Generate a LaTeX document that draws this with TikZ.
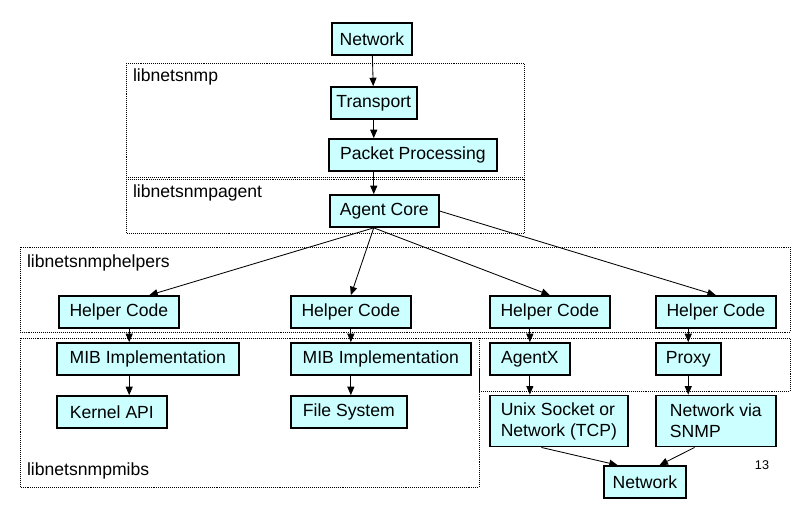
\documentclass[tikz,border=0pt]{standalone}
\usepackage{fontspec}
\setmainfont{Liberation Sans}
\usetikzlibrary{arrows.meta,calc}
\definecolor{boxfill}{HTML}{CCFFFF}
\tikzset{
  blk/.style={draw, very thick, fill=boxfill, anchor=west, minimum height=0.8cm, inner xsep=4pt, font=\fontsize{12.5}{15}\selectfont, align=left},
  grp/.style={draw, densely dotted, thin},
  lbl/.style={anchor=north west, font=\fontsize{12.5}{15}\selectfont, inner sep=2pt},
  conn/.style={-{Triangle[length=6pt,width=5pt]}, semithick}
}
\begin{document}
\begin{tikzpicture}[x=0.025cm, y=-0.025cm]
  \useasboundingbox (0,0) rectangle (805,532);
  % library regions
  \draw[grp] (126,63) rectangle (524,177);
  \node[lbl] (libnet) at (130,66) {libnetsnmp};
  \draw[grp] (126,179) rectangle (524,233);
  \node[lbl] (libagent) at (130,182) {libnetsnmpagent};
  \draw[grp] (20,247) rectangle (790,332);
  \node[lbl] (libhelp) at (24,252) {libnetsnmphelpers};
  \draw[grp] (20,338) rectangle (479,487);
  \node[lbl,anchor=south west] (libmibs) at (24,482) {libnetsnmpmibs};
  \draw[grp] (479,338) rectangle (790,391);

  % blocks
  \node[blk, minimum width=2cm] (net) at (331,39) {Network};
  \node[blk, minimum width=2cm] (trans) at (330,103) {Transport};
  \node[blk, minimum width=4.2cm] (pkt) at (328,155) {Packet Processing};
  \node[blk, minimum width=2.72cm] (core) at (329,211) {Agent Core};
  \node[blk, minimum width=3cm] (help1) at (58,312) {Helper Code};
  \node[blk, minimum width=3cm] (help2) at (290,312) {Helper Code};
  \node[blk, minimum width=3cm] (help3) at (489,312) {Helper Code};
  \node[blk, minimum width=3cm] (help4) at (655,312) {Helper Code};
  \node[blk, minimum width=4.55cm] (mib1) at (56,359) {MIB Implementation};
  \node[blk, minimum width=4.5cm] (mib2) at (290,359) {MIB Implementation};
  \node[blk, minimum width=2.75cm] (kern) at (56,412) {Kernel API};
  \node[blk, minimum width=2.9cm] (fs) at (290,412) {File System};
  \node[blk, minimum width=2cm] (agentx) at (489,359) {AgentX};
  \node[blk, minimum width=1.62cm] (proxy) at (655,359) {Proxy};
  \node[blk, minimum width=3.45cm, minimum height=1.28cm] (unix) at (489,421) {Unix Socket or\\Network (TCP)};
  \node[blk, minimum width=3cm, minimum height=1.28cm] (viasnmp) at (655,421) {Network via\\SNMP};
  \node[blk, minimum width=2.05cm] (netb) at (603,482) {Network};
  \node[font=\fontsize{9}{11}\selectfont\rmfamily] (page) at (762,465) {13};

  % connectors
  \draw[conn] (net) -- (trans);
  \draw[conn] (trans.south) -- (trans.south |- pkt.north);
  \draw[conn] (trans.south |- pkt.south) -- (trans.south |- core.north);
  \draw[conn] (trans.south |- core.south) -- ($(help1.north)!0.5!(help1.north east)$);
  \draw[conn] (trans.south |- core.south) -- (help2.north);
  \draw[conn] (trans.south |- core.south) -- (help3.north);
  \draw[conn] (core.east) -- (help4.north);
  \draw[conn] ($(help1.south)!0.17!(help1.south east)$) coordinate (h1) -- (h1 |- mib1.north);
  \draw[conn] (h1 |- mib1.south) -- (h1 |- kern.north);
  \draw[conn] (help2.south) -- (help2.south |- mib2.north);
  \draw[conn] (help2.south |- mib2.south) -- (help2.south |- fs.north);
  \draw[conn] (agentx.north |- help3.south) -- (agentx.north);
  \draw[conn] (agentx.south) -- (agentx.south |- unix.north);
  \draw[conn] (proxy.north |- help4.south) -- (proxy.north);
  \draw[conn] (proxy.south) -- (proxy.south |- viasnmp.north);
  \draw[conn] ($(unix.south)!0.25!(unix.south west)$) -- ($(netb.north)!0.65!(netb.north west)$);
  \draw[conn] ($(viasnmp.south)!0.35!(viasnmp.south west)$) -- ($(netb.north)!0.35!(netb.north east)$);
\end{tikzpicture}
\end{document}
